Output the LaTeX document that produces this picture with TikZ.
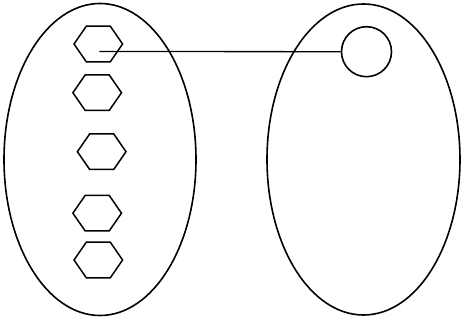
\documentclass[tikz,border=0pt]{standalone}
\usetikzlibrary{shapes.geometric}
\begin{document}
\begin{tikzpicture}[x=1pt,y=-1pt,
  outline/.style={draw=black,line width=1.6pt},
  hexline/.style={draw=black,line width=1.5pt,line join=miter},
  link/.style={draw=black,line width=1.3pt}]
\useasboundingbox (0,0) rectangle (461,320);
\fill[white] (0,0) rectangle (461,320);
% ellipses
\node[outline,ellipse,minimum width=192pt,minimum height=312pt,inner sep=0pt] (setA) at (100,159.5) {};
\node[outline,ellipse,minimum width=193pt,minimum height=311pt,inner sep=0pt] (setB) at (363.5,159.5) {};
% hexagons
\foreach \n/\cx/\cy in {h1/98.3/44, h2/97.2/92.7, h3/101.7/151.7, h4/97.2/213.2, h5/98.3/260}{
  \coordinate (\n) at (\cx,\cy);
  \draw[hexline] ([xshift=-24.3pt]\n) -- ([xshift=-12pt,yshift=-17.8pt]\n) -- ([xshift=12pt,yshift=-17.8pt]\n)
     -- ([xshift=24.3pt]\n) -- ([xshift=12pt,yshift=17.8pt]\n) -- ([xshift=-12pt,yshift=17.8pt]\n) -- cycle;
}
% circle
\node[outline,circle,minimum size=50pt,inner sep=0pt] (c1) at (366.5,51.7) {};
\coordinate (start) at (99.3,51.5);
\draw[link] (start) -- (c1.west);
\end{tikzpicture}
\end{document}
